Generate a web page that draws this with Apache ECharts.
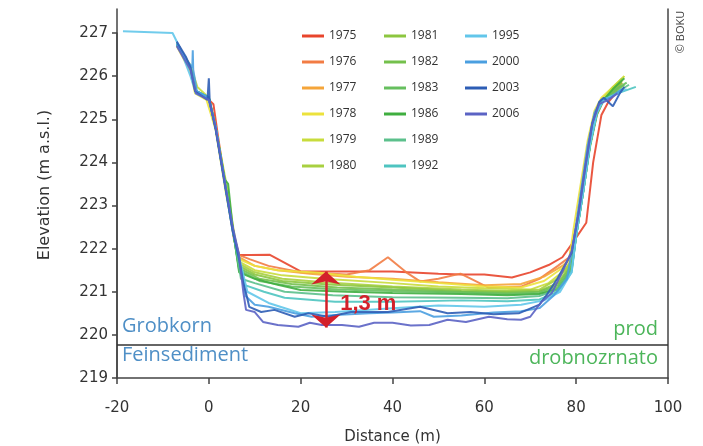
<!DOCTYPE html>
<html>
<head>
<meta charset="utf-8">
<script src="https://cdn.jsdelivr.net/npm/echarts@6/dist/echarts.min.js"></script>
<style>
  html, body { margin: 0; padding: 0; background: #fff; }
  #chart { width: 703px; height: 446px; }
</style>
</head>
<body>
<div id="chart"></div>
<script>
// survey years and their line colours
const years = ['1975', '1976', '1977', '1978', '1979', '1980', '1981', '1982', '1983', '1986', '1989', '1992', '1995', '2000', '2003', '2006'];
const colors = ['#e8452c', '#f27c44', '#f5a53a', '#ece23c', '#c8dc3c', '#a8d040', '#8cc63f', '#74c04c', '#66bf5e', '#3fae3f', '#5cc08c', '#4ec4c0', '#62c6ea', '#4a9fe0', '#2d5db5', '#5b63c4'];

// cross profiles: [distance (m), elevation (m a.s.l.)]
const e1975 = [[-6.5,226.7],[-4,226.15],[-2.6,225.6],[0,225.45],[1,225.35],[2,224.6],[4,223.2],[5.5,222.3],[6.6,221.85],[9,221.85],[13.2,221.86],[20,221.47],[30,221.47],[40,221.47],[50,221.42],[55,221.4],[60,221.4],[66,221.33],[70,221.45],[74,221.62],[77,221.8],[79,222.1],[82.2,222.6],[83.7,224.0],[85.5,225.1],[87,225.4],[89,225.65]];
const e1976 = [[-7,226.75],[-4,226.2],[-2.8,225.65],[0,225.45],[1.5,224.8],[3.7,223.4],[5.5,222.2],[6.6,221.85],[9,221.75],[13,221.6],[20,221.45],[30,221.4],[35,221.5],[39,221.8],[43,221.45],[46,221.24],[50,221.3],[54.8,221.42],[58,221.25],[61,221.09],[68,221.12],[72,221.3],[76,221.6],[78.5,221.8],[80,222.5],[81.5,223.4],[83,224.4],[84.5,225.1],[86,225.45],[88,225.6],[90,225.85]];
const e1977 = [[-7,226.75],[-4,226.2],[-2.8,225.65],[0,225.45],[1.5,224.8],[3.7,223.4],[5.5,222.3],[6.6,221.8],[10,221.6],[15,221.5],[22,221.42],[30,221.35],[40,221.3],[50,221.22],[60,221.15],[68,221.18],[73,221.35],[77,221.6],[78.5,221.75],[80,222.5],[81.5,223.4],[83,224.4],[84.5,225.15],[86,225.45],[88,225.65],[90,225.9]];
const e1978 = [[-7,226.7],[-4,226.1],[-3,225.6],[-0.5,225.45],[1.5,224.75],[3.7,223.3],[5.2,222.45],[6.6,221.75],[10,221.6],[15,221.5],[24,221.44],[32,221.35],[40,221.28],[50,221.2],[60,221.12],[68,221.1],[73,221.25],[77,221.55],[78.5,221.75],[79.5,222.5],[81,223.5],[82.5,224.5],[84,225.2],[85.5,225.5],[88,225.75],[90.5,226.0]];
const e1979 = [[-7,226.75],[-4,226.25],[-2.5,225.75],[0,225.5],[1.5,224.8],[4,223.4],[5.3,222.5],[6.6,221.7],[10,221.5],[16,221.38],[25,221.3],[40,221.2],[50,221.12],[60,221.08],[70,221.05],[74,221.2],[77.5,221.5],[79,221.75],[80,222.5],[81.5,223.5],[83,224.5],[84.5,225.2],[86,225.5],[88,225.75],[90.5,226.0]];
const e1980 = [[-7,226.75],[-4,226.2],[-2.8,225.65],[0,225.5],[1.5,224.8],[3.7,223.4],[5.2,222.45],[6.6,221.65],[10,221.45],[16,221.3],[25,221.22],[40,221.12],[55,221.05],[65,221.02],[72,221.05],[76,221.3],[79,221.7],[80,222.4],[81.5,223.4],[83,224.4],[84.5,225.2],[86,225.45],[88,225.7],[90,225.95]];
const e1981 = [[-7,226.75],[-4,226.2],[-2.8,225.65],[0,225.5],[1.5,224.8],[3.7,223.4],[5.2,222.45],[6.6,221.6],[10,221.4],[16,221.25],[26,221.17],[40,221.1],[55,221.02],[65,221.0],[72,221.02],[76,221.2],[79,221.65],[80,222.4],[81.5,223.4],[83,224.4],[84.5,225.15],[86,225.45],[88,225.65],[90,225.85]];
const e1982 = [[-7,226.75],[-4,226.2],[-2.8,225.65],[0,225.5],[1.5,224.8],[3.7,223.4],[5.2,222.45],[6.6,221.55],[11,221.3],[18,221.18],[28,221.1],[40,221.05],[55,221.0],[65,220.97],[72,221.0],[76,221.15],[79,221.6],[80,222.3],[81.5,223.3],[83,224.35],[84.5,225.1],[86,225.45],[88,225.6],[90.5,225.8]];
const e1983 = [[-7,226.75],[-4,226.2],[-2.8,225.65],[0,225.5],[1.5,224.8],[3.7,223.4],[5.2,222.45],[6.6,221.5],[11,221.25],[18,221.12],[28,221.05],[40,221.02],[55,220.98],[65,220.95],[72,220.97],[76,221.1],[79,221.55],[80,222.3],[81.5,223.3],[83,224.4],[84.5,225.15],[86,225.45],[88,225.65],[91,225.85]];
const e1986 = [[-7,226.75],[-4,226.2],[-2.8,225.65],[0,225.5],[1.5,224.8],[3.5,223.6],[4.2,223.5],[5.2,222.5],[6.6,221.45],[10,221.3],[15,221.16],[20,221.04],[30,221.0],[40,220.97],[55,220.95],[65,220.92],[72,220.95],[76,221.05],[79,221.5],[80,222.3],[81.5,223.3],[83,224.4],[84.5,225.15],[86,225.45],[88,225.7],[90.5,225.95]];
const e1989 = [[-7,226.75],[-4,226.2],[-2.8,225.65],[0,225.5],[1.5,224.8],[3.7,223.4],[5.2,222.45],[7,221.3],[10,221.2],[16.5,221.0],[27,220.92],[40,220.87],[55,220.86],[65,220.85],[72,220.9],[76,221.05],[79,221.5],[80,222.3],[81.5,223.3],[83,224.4],[84.5,225.15],[86,225.45],[88.5,225.6],[91.5,225.8]];
const e1992 = [[-7,226.75],[-4,226.2],[-2.8,225.65],[0,225.5],[1.5,224.8],[3.7,223.4],[5.2,222.45],[7.7,221.16],[12,221.0],[16.5,220.86],[27.5,220.77],[40,220.77],[55,220.8],[65,220.78],[72,220.82],[76,221.0],[79,221.45],[80,222.3],[81.5,223.3],[83,224.4],[84.5,225.15],[86,225.45],[89,225.6],[93,225.75]];
const e1995 = [[-18.7,227.04],[-7.9,227.0],[-6.5,226.7],[-4,226.0],[-2.8,225.6],[0,225.45],[1.5,224.8],[3.7,223.35],[5.2,222.4],[6.6,221.8],[8.4,221.0],[13,220.74],[20,220.5],[27.5,220.53],[40,220.62],[50,220.68],[60,220.65],[68,220.7],[73,220.8],[76.5,221.0],[79,221.45],[80,222.3],[81.5,223.3],[83,224.4],[84.5,225.15],[86,225.45],[88,225.55],[91,225.7]];
const e2000 = [[-7,226.75],[-5,226.4],[-3.6,226.2],[-3.5,226.6],[-3.4,226.15],[-2.6,225.65],[0,225.5],[1.5,224.8],[3.7,223.4],[5.2,222.45],[6.6,221.8],[8,220.9],[10,220.7],[13,220.65],[18.7,220.5],[22.4,220.42],[27.5,220.46],[35,220.5],[40,220.52],[46,220.55],[49,220.42],[55,220.45],[62,220.52],[68,220.55],[72,220.62],[75,220.9],[78,221.3],[79.5,222.2],[81,223.3],[82.5,224.4],[84,225.15],[85.5,225.45],[87.5,225.5],[90,225.7]];
const e2003 = [[-7,226.8],[-5,226.45],[-4,226.2],[-3,225.65],[-0.3,225.45],[0,225.95],[0.2,225.4],[1.5,224.75],[3.7,223.35],[5.2,222.4],[6.6,221.75],[7.5,221.2],[8.1,220.97],[8.8,220.65],[11.4,220.53],[14.3,220.58],[18.7,220.42],[21.7,220.5],[26,220.42],[31,220.53],[39,220.53],[46,220.65],[52,220.5],[57,220.53],[62,220.48],[67.5,220.5],[72,220.7],[73.6,220.93],[76,221.32],[79,221.9],[80.5,222.8],[82,223.9],[83.5,224.9],[85,225.4],[86,225.5],[88,225.3],[89.5,225.6],[90.5,225.75]];
const e2006 = [[-7,226.7],[-4,226.15],[-2.8,225.6],[0,225.45],[1.5,224.8],[3.7,223.4],[5.2,222.5],[6.5,221.9],[7.5,221.0],[8.1,220.58],[10,220.53],[11.8,220.3],[15,220.23],[19.5,220.19],[22,220.28],[24.6,220.23],[29,220.23],[32.7,220.19],[36,220.28],[40,220.28],[44,220.22],[48,220.23],[52,220.35],[56,220.3],[61,220.42],[65,220.36],[68,220.35],[70,220.42],[72.5,220.77],[74.7,220.97],[77,221.46],[79,221.93],[80.5,222.8],[82,223.9],[83.5,224.9],[85,225.35],[87,225.45],[89,225.6]];

const profiles = [e1975, e1976, e1977, e1978, e1979, e1980, e1981, e1982, e1983, e1986, e1989, e1992, e1995, e2000, e2003, e2006];

// annotations
const boundaryLevel = 219.77;           // Grobkorn / Feinsediment boundary
const scourArrow = [[25.5, 220.17], [25.5, 221.47]];
const scourLabel = { coord: [28.6, 220.72], text: '1,3 m' };

const xTicks = { min: -20, max: 100, interval: 20 };
const yTicks = { min: 219, max: 227, interval: 1 };

let chart = echarts.init(document.getElementById('chart'));

const FONT = '"Open Sans", "Liberation Sans", sans-serif';
const AXIS_FONT = '"DejaVu Sans", sans-serif';
const AXIS_COLOR = '#444';
const RED = '#d3202a';

const series = years.map((y, i) => ({
    name: y,
    type: 'line',
    xAxisIndex: 0,
    yAxisIndex: 0,
    data: profiles[i],
    symbol: 'none',
    clip: false,
    color: colors[i],
    lineStyle: { width: 2, opacity: 0.9 },
    z: 2 + i
}));

// boundary line and the red 1,3 m arrow
series.push({
    name: 'annotations',
    type: 'line',
    xAxisIndex: 0,
    yAxisIndex: 0,
    data: [],
    z: 30,
    markLine: {
        silent: true,
        animation: false,
        z: 40,
        symbol: ['none', 'none'],
        label: { show: false },
        data: [
            {
                yAxis: boundaryLevel,
                lineStyle: { color: '#333', width: 1.5, type: 'solid', opacity: 1 }
            },
            [
                { coord: scourArrow[0], symbol: 'arrow', symbolSize: [22, 13],
                  lineStyle: { color: RED, width: 2.5, type: 'solid', opacity: 1 },
                  itemStyle: { color: RED } },
                { coord: scourArrow[1], symbol: 'arrow', symbolSize: [22, 13],
                  itemStyle: { color: RED } }
            ]
        ]
    },
    markPoint: {
        silent: true,
        animation: false,
        z: 40,
        symbol: 'circle',
        symbolSize: 0,
        data: [{
            coord: scourLabel.coord,
            itemStyle: { color: RED },
            label: {
                show: true,
                position: 'right',
                distance: 0,
                formatter: scourLabel.text,
                color: RED,
                textBorderWidth: 0,
                fontSize: 22,
                fontWeight: 'bold',
                fontFamily: '"Liberation Sans", Arial, sans-serif'
            }
        }]
    }
});

const legendBase = {
    orient: 'vertical',
    top: 29,
    padding: 0,
    icon: 'rect',
    itemWidth: 22,
    itemHeight: 3,
    itemGap: 12,
    textStyle: { fontSize: 12, lineHeight: 14, color: '#333', fontFamily: FONT }
};

let option = {
    backgroundColor: '#fff',
    animation: false,
    legend: [
        Object.assign({ left: 302, data: years.slice(0, 6) }, legendBase),
        Object.assign({ left: 384, data: years.slice(6, 12) }, legendBase),
        Object.assign({ left: 465, data: years.slice(12) }, legendBase)
    ],
    grid: [
        { left: 117, right: 35, top: 33, bottom: 68, outerBoundsMode: 'none' },
        { left: 117, right: 35, top: 9, bottom: 68, outerBoundsMode: 'none' }   // frame only
    ],
    xAxis: [
        {
            gridIndex: 0,
            type: 'value',
            min: xTicks.min,
            max: xTicks.max,
            interval: xTicks.interval,
            name: 'Distance (m)',
            nameLocation: 'middle',
            nameGap: 52,
            nameTextStyle: { fontSize: 15, color: '#333', fontFamily: AXIS_FONT },
            axisLine: { onZero: false, lineStyle: { color: AXIS_COLOR, width: 1.5 } },
            axisTick: { length: 6, lineStyle: { color: AXIS_COLOR, width: 1.5 } },
            axisLabel: { margin: 23, fontSize: 15, color: '#333', fontFamily: AXIS_FONT },
            splitLine: { show: false }
        },
        { gridIndex: 1, type: 'value', min: 0, max: 1, show: false }
    ],
    yAxis: [
        {
            gridIndex: 0,
            type: 'value',
            min: yTicks.min,
            max: yTicks.max,
            interval: yTicks.interval,
            name: 'Elevation (m a.s.l.)',
            nameLocation: 'middle',
            nameGap: 64,
            nameTextStyle: { fontSize: 16, color: '#333', fontFamily: AXIS_FONT, padding: [0, 0, 0, 41] },
            axisLine: { show: true, onZero: false, lineStyle: { color: AXIS_COLOR, width: 1.5 } },
            axisTick: { length: 5, lineStyle: { color: AXIS_COLOR, width: 1.5 } },
            axisLabel: { margin: 9, fontSize: 15, color: '#333', fontFamily: AXIS_FONT },
            splitLine: { show: false }
        },
        {
            gridIndex: 1, type: 'value', min: 0, max: 1, position: 'left',
            axisLine: { show: true, onZero: false, lineStyle: { color: AXIS_COLOR, width: 1.5 } },
            axisTick: { show: false }, axisLabel: { show: false }, splitLine: { show: false }
        },
        {
            gridIndex: 1, type: 'value', min: 0, max: 1, position: 'right',
            axisLine: { show: true, onZero: false, lineStyle: { color: AXIS_COLOR, width: 1.5 } },
            axisTick: { show: false }, axisLabel: { show: false }, splitLine: { show: false }
        }
    ],
    graphic: [
        { type: 'text', left: 122, top: 316, style: { text: 'Grobkorn', fill: '#4f8fc6', font: '20px ' + FONT } },
        { type: 'text', left: 122, top: 345, style: { text: 'Feinsediment', fill: '#4f8fc6', font: '20px ' + FONT } },
        { type: 'text', right: 45, top: 319, style: { text: 'prod', fill: '#4cb55a', font: '20px ' + FONT } },
        { type: 'text', right: 45, top: 348, style: { text: 'drobnozrnato', fill: '#4cb55a', font: '20px ' + FONT } },
        {
            type: 'text', x: 681, y: 32, rotation: Math.PI / 2,
            style: { text: '© BOKU', fill: '#444', font: '11px ' + FONT, textAlign: 'center', textVerticalAlign: 'middle' }
        }
    ],
    series: series
};

chart.setOption(option);
</script>
</body>
</html>
